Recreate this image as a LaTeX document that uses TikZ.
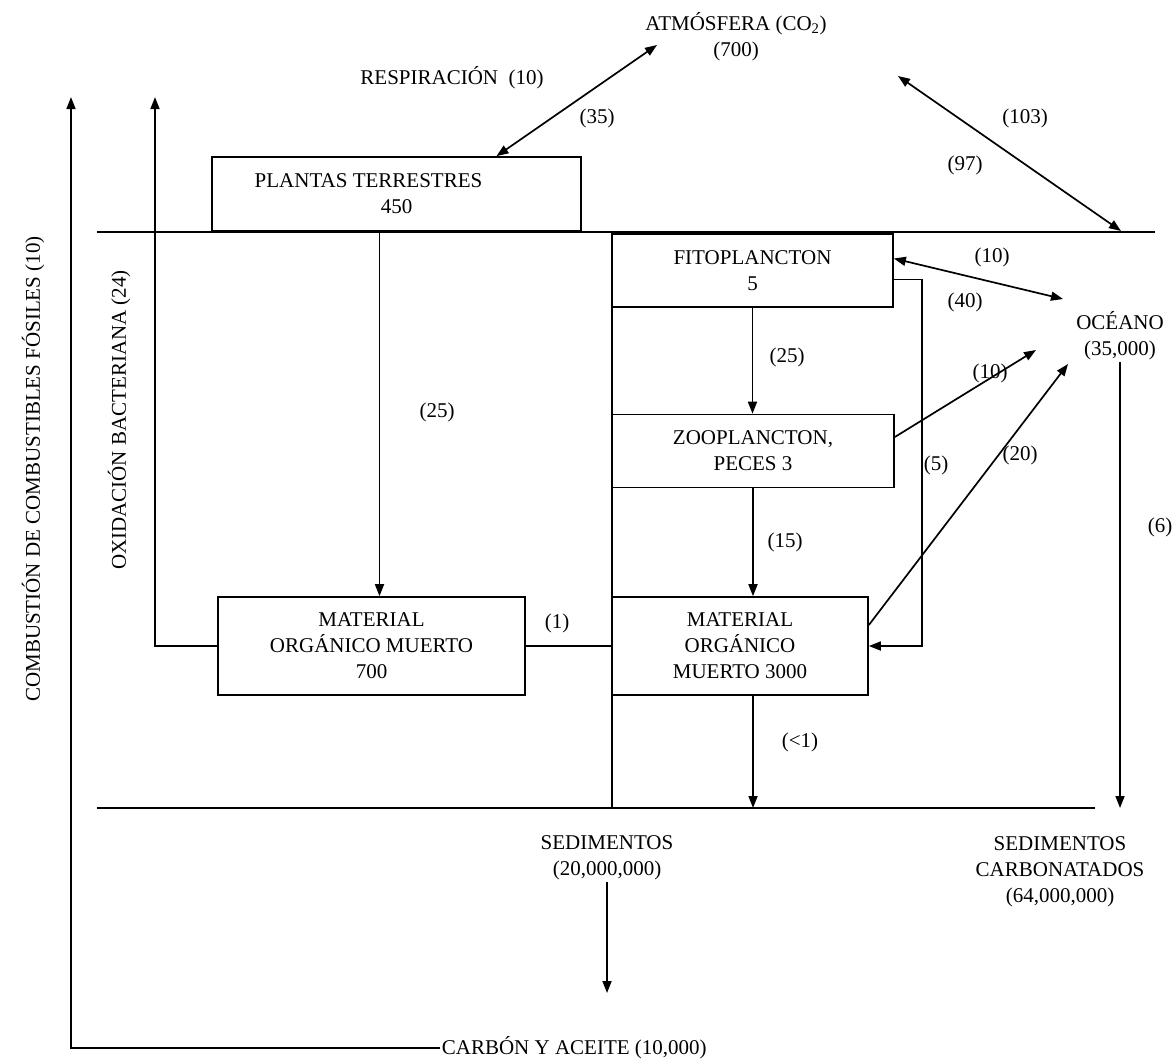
\documentclass[tikz,border=0pt]{standalone}
\usepackage{fontspec}
\setmainfont{Liberation Serif}
\usetikzlibrary{arrows.meta,calc}
\begin{document}
\begin{tikzpicture}[x=1pt,y=-1pt,
  line width=1.7pt,
  txt/.style={font=\fontsize{21}{26}\selectfont},
  box/.style={draw,line width=1.7pt,align=center,inner sep=0pt,txt},
  lbl/.style={txt,inner sep=1pt,align=center},
  arr/.style={-{Triangle[length=12pt,width=9pt]}},
  darr/.style={{Triangle[length=12pt,width=9pt]}-{Triangle[length=12pt,width=9pt]}}]
\fill[white] (0,0) rectangle (1176,1061);
\useasboundingbox (0,0) rectangle (1176,1061);

% boxes
\node[box,minimum width=369pt,minimum height=74pt] (plantas) at (396.5,194) {\hspace*{-56pt}PLANTAS TERRESTRES\\450};
\node[box,minimum width=281pt,minimum height=73pt] (fito) at (752.5,270.5) {FITOPLANCTON\\5};
\node[box,minimum width=282pt,minimum height=73pt] (zoo) at (753,451) {ZOOPLANCTON,\\PECES 3};
\node[box,minimum width=307pt,minimum height=98pt] (mom7) at (371.5,646) {MATERIAL\\ORGÁNICO MUERTO\\700};
\node[box,minimum width=256pt,minimum height=98pt] (mom3) at (740,646) {MATERIAL\\ORGÁNICO\\MUERTO 3000};

% reservoir labels
\node[lbl] (atm) at (736,37) {ATMÓSFERA (CO\textsubscript{2})\\(700)};
\node[lbl] (oceano) at (1120,336) {OCÉANO\\(35,000)};
\node[lbl] (sed) at (607,858) {SEDIMENTOS\\(20,000,000)};
\node[lbl] (sedcarb) at (1060,872) {SEDIMENTOS\\CARBONATADOS\\(64,000,000)};
\node[lbl,anchor=west] (carbon) at (440,1048) {CARBÓN Y ACEITE (10,000)};
\node[lbl] (resp) at (452,78) {RESPIRACIÓN\enspace(10)};
\node[lbl,rotate=90] (comb) at (33,469) {COMBUSTIÓN DE COMBUSTIBLES FÓSILES (10)};
\node[lbl,rotate=90] (oxid) at (119,420) {OXIDACIÓN BACTERIANA (24)};

% flow labels
\node[lbl] (l35) at (597,118) {(35)};
\node[lbl] (l103) at (1025,118) {(103)};
\node[lbl] (l97) at (965,165) {(97)};
\node[lbl] (l10a) at (992,257) {(10)};
\node[lbl] (l40) at (965,302) {(40)};
\node[lbl] (l25a) at (437,412) {(25)};
\node[lbl] (l25b) at (787,357) {(25)};
\node[lbl] (l15) at (785,542) {(15)};
\node[lbl] (l5) at (936,465) {(5)};
\node[lbl] (l10b) at (990,373) {(10)};
\node[lbl] (l20) at (1020,455) {(20)};
\node[lbl] (l1) at (557,623) {(1)};
\node[lbl] (l1b) at (800,742) {(<1)};
\node[lbl] (l6) at (1160,527) {(6)};

% coordinates
\coordinate (s1) at (97,232);
\coordinate (s2) at (1155,232);
\coordinate (b1) at (97,808);
\coordinate (b2) at (1095,808);
\coordinate (m1) at (612,232);
\coordinate (m2) at (612,808);
\coordinate (c1) at (71,97);
\coordinate (o1) at (155,97);
\coordinate (atmL) at (657,45);
\coordinate (atmR) at (898,76);
\coordinate (ocTop) at (1121,231);
\coordinate (oc1) at (1063,299);
\coordinate (oc2) at (1036,350);
\coordinate (oc3) at (1068,364);
\coordinate (sedArr) at (610,993);

% horizon lines
\draw (s1) -- (s2);
\draw (b1) -- (b2);
\draw (m1) -- (m2);

% connectors
\draw[arr] (carbon.west) -| (c1);
\draw[arr] (mom7.west) -| (o1);
\draw (mom7.east) -- (mom7.east -| m1);
\draw[darr] ([xshift=100pt]plantas.north) -- (atmL);
\draw[darr] (atmR) -- (ocTop);
\draw[arr] ([xshift=8pt]mom7.north |- plantas.south) -- ([xshift=8pt]mom7.north);
\draw[darr] ([yshift=12pt]fito.east) -- (oc1);
\draw[arr] ([yshift=-9pt]fito.east) -- ++(28,0) |- (mom3.east);
\draw[arr] (fito.south) -- (fito.south |- zoo.north);
\draw[arr] (zoo.south) -- (zoo.south |- mom3.north);
\draw[arr] ([yshift=14pt]zoo.east) -- (oc2);
\draw[arr] ([yshift=21pt]mom3.east) -- (oc3);
\draw[arr] (oceano.south) -- (oceano.south |- b2);
\draw[arr] (zoo.south |- mom3.south) -- (zoo.south |- b1);
\draw[arr] (sed.south) -- (sed.south |- sedArr);
\end{tikzpicture}
\end{document}
